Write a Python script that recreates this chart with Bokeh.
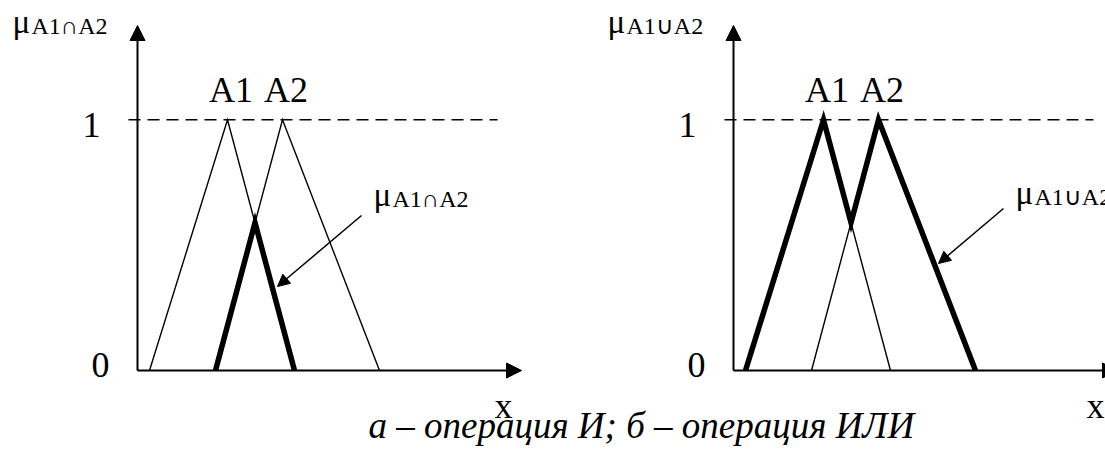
import numpy as np
from bokeh.plotting import figure
from bokeh.models import Range1d, Arrow, NormalHead
from bokeh.core.properties import value
from bokeh.embed import file_html
from bokeh.resources import INLINE

# ---------------- data ----------------
a1 = [1.2, 9.0, 15.7]      # fuzzy set A1: left foot, peak, right foot (x units)
a2 = [7.8, 14.5, 24.2]     # fuzzy set A2
mu_tri = [0.0, 1.0, 0.0]   # membership at those points
set_labels = ["A1", "A2"]
y_ticks = [0, 1]
y_tick_labels = ["0", "1"]
x_label = "x"
mu_and_label = ("\u03bc", "A1\u2229A2")
mu_or_label = ("\u03bc", "A1\u222aA2")
caption = "\u0430 \u2013 \u043e\u043f\u0435\u0440\u0430\u0446\u0438\u044f \u0418; \u0431 \u2013 \u043e\u043f\u0435\u0440\u0430\u0446\u0438\u044f \u0418\u041b\u0418"

# derived: crossing of A1 falling edge and A2 rising edge
d1 = a1[2] - a1[1]
d2 = a2[1] - a2[0]
xi = (a1[2] * d2 + a2[0] * d1) / (d1 + d2)
mi = (a1[2] - xi) / d1
and_x = [a2[0], xi, a1[2]]
and_mu = [0.0, mi, 0.0]
or_x = [a1[0], a1[1], xi, a2[1], a2[2]]
or_mu = [0.0, 1.0, mi, 1.0, 0.0]

# ---------------- layout (page pixels) ----------------
W, H = 1105, 450
X0L, X0R, Y0 = 137.0, 733.0, 370.0   # panel origins
SX, SY = 10.0, 250.7                 # px per unit
TDY = -13                            # text baseline correction (px)

def px(page_x):
    return (page_x - X0L) / SX

def py(page_y):
    return (Y0 - page_y) / SY

OFF_R = px(X0R)
FONT = value("Liberation Serif")

p = figure(width=W, height=H, output_backend="svg", toolbar_location=None,
           x_range=Range1d(px(0), px(W)), y_range=Range1d(py(H), py(0)),
           x_axis_location=None, y_axis_location=None, min_border=0,
           background_fill_color="white", border_fill_color="white")
p.outline_line_color = None
p.xgrid.visible = False
p.ygrid.visible = False

def head(size):
    return NormalHead(size=size, fill_color="black", line_color="black", line_width=1)

def txt(x, y, s, size, align="left", dy=0, style="normal"):
    p.text([x], [y], text=[s], text_font=FONT, text_font_size=size, text_font_style=style,
           text_align=align, text_baseline="alphabetic", y_offset=dy + TDY)

def panel(off, combined_x, combined_mu, mu_lbl, ann_from, ann_to, ann_text_x, ann_base_y,
          x_tip, x_lbl_dx, top_mu_x):
    # axes with arrow heads
    p.add_layout(Arrow(end=head(15), x_start=off, y_start=0, x_end=off, y_end=py(25),
                       line_width=2, line_color="black"))
    p.add_layout(Arrow(end=head(15), x_start=off, y_start=0, x_end=off + x_tip / SX, y_end=0,
                       line_width=2, line_color="black"))
    # dashed level line mu = 1
    p.line([off - 0.9, off + 36.0], [y_ticks[1], y_ticks[1]], line_color="black",
           line_width=1.6, line_dash="12 7")
    # thin triangles
    for tri in (a1, a2):
        p.line([off + v for v in tri], mu_tri, line_color="black", line_width=1.4, line_join="miter")
    # thick combined curve
    p.line([off + v for v in combined_x], combined_mu, line_color="black", line_width=5.5,
           line_join="miter")
    # tick labels
    for t, lab, dx, dy in zip(y_ticks, y_tick_labels, [-37, -46], [7, 18]):
        txt(off + dx / SX, t, lab, "36px", "center", dy)
    # set labels above peaks
    for lab, tri in zip(set_labels, (a1, a2)):
        txt(off + tri[1] + 0.35, 1.0, lab, "36px", "center", -17)
    # x label
    txt(off + (x_tip + x_lbl_dx) / SX, 0, x_label, "36px", "center", 48)
    # y label (top)
    txt(off + top_mu_x / SX, py(34), mu_lbl[0], "33px")
    txt(off + (top_mu_x + 19) / SX, py(38), mu_lbl[1], "24px")
    # annotation label + arrow
    txt(off + ann_text_x / SX, py(ann_base_y), mu_lbl[0], "33px")
    txt(off + (ann_text_x + 19) / SX, py(ann_base_y + 4), mu_lbl[1], "24px")
    p.add_layout(Arrow(end=head(12),
                       x_start=off + ann_from[0] / SX, y_start=py(ann_from[1]),
                       x_end=off + ann_to[0] / SX, y_end=py(ann_to[1]),
                       line_width=1.5, line_color="black"))

panel(0.0, and_x, and_mu, mu_and_label, (224, 215), (140, 286), 236, 207, 384, -18, -125)
panel(OFF_R, or_x, or_mu, mu_or_label, (270, 208), (205, 263), 282, 205, 384, -22, -126)

# caption
txt(px(368), py(438), caption, "37px", "left", 0, "italic")

open("out.html", "w").write(file_html(p, INLINE))
